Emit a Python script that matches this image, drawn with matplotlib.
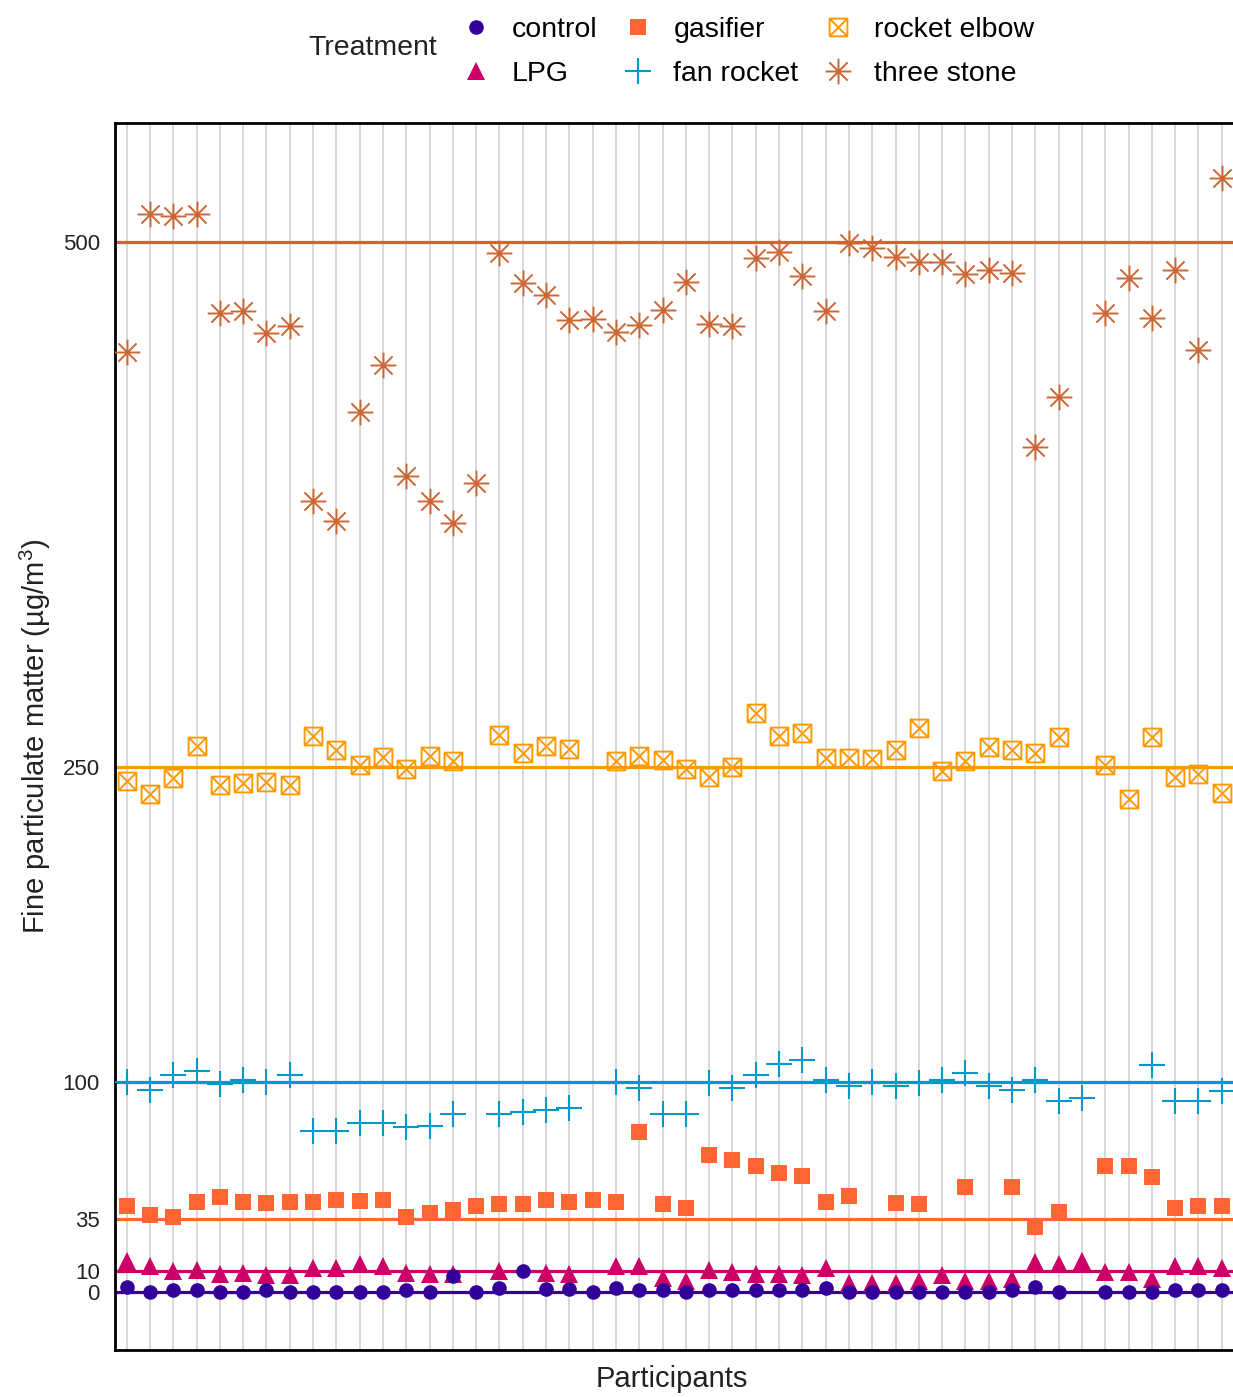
import numpy as np
import matplotlib
matplotlib.use("Agg")
import matplotlib.pyplot as plt
from matplotlib.path import Path
from matplotlib.lines import Line2D

plt.rcParams["font.family"] = ["Liberation Sans", "DejaVu Sans"]
plt.rcParams["mathtext.fontset"] = "custom"
plt.rcParams["mathtext.rm"] = "Liberation Sans"
plt.rcParams["mathtext.it"] = "Liberation Sans:italic"

nan = np.nan

# ---- data: mean PM2.5 per participant and stove treatment (ug/m3) ----
participants = np.arange(1, 49)

control = [2.5, 0.3, 1, 1, 0.3, 0.3, 1, 0, 0, 0, 0.3, 0.3, 1, 0.3, 8, 0.3,
           2, 10, 1.5, 1.5, 0.3, 2, 1, 1, 0, 1, 1, 1, 1, 1, 2, 0,
           0, 0, 0.3, 0, 0.3, 0, 1, 2.5, 0.3, nan, 0, 0, 0, 1, 1, 1]

lpg = [14.9, 12.7, 10, 10.8, 8.9, 9.4, 8.1, 8.1, 11.7, 11.7, 13.6, 12.7, 9.4, 8.9, 8.9, nan,
       10, nan, 9.4, 8.9, nan, 12.7, 12.7, 7.1, 5.4, 10.8, 9.8, 8.9, 8.9, 8.1, 11.7, 4.6,
       4.6, 4.6, 5.4, 8.1, 5.4, 5.4, 6.6, 14.6, 13.6, 15.2, 9.8, 9.8, 6.4, 12.7, 12.7, 11.7]

gasifier = [41.4, 37, 35.9, 43, 45.4, 43, 42.7, 43, 43, 43.8, 43.5, 43.8, 35.9, 37.8, 39.5, 41.4,
            42.2, 42, 43.8, 43, 43.8, 43, 76.5, 42.2, 40.3, 65.4, 63.2, 60, 57, 55.4, 43, 45.9,
            nan, 42.7, 42.2, nan, 50.2, nan, 50.2, 31, 38.3, nan, 60, 60, 55.2, 40.2, 41.1, 41.4]

fan_rocket = [100, 96.5, 103.7, 105.4, 99.4, 101.3, 100, 103.7, 77.1, 77.1, 80.6, 80.6, 78.7, 79.5, 85, nan,
              85, 85.9, 86.7, 87.8, nan, 100, 97.5, 85, 85, 99.7, 97.5, 103.7, 108.9, 110.8, 101.4, 98.2,
              100, 98.5, 99.7, 101.4, 104.6, 98.5, 96.5, 101.4, 91.1, 92.7, nan, nan, 108.1, 91.1, 91.1, 95.7]

rocket_elbow = [243.5, 237.6, 245.2, 260, 241.6, 242.5, 243.2, 241.8, 265.1, 258.2, 251, 255.2, 249.2, 255.6, 253.2, nan,
                265.4, 257, 260.2, 258.7, nan, 253, 255.7, 253.6, 249.2, 245.4, 250.3, 276, 265.1, 266.5, 254.3, 254.3,
                253.8, 258.2, 269, 248.1, 253.2, 259.7, 258.2, 257.1, 264.3, nan, 251.3, 235.2, 264.3, 245.4, 246.7, 237.8]

three_stone = [447.8, 513.7, 512.4, 513.7, 466.5, 467.3, 456.8, 460.1, 377.1, 367.6, 419.2, 441.7, 388.6, 377.1, 366.3, 385.6,
               494.9, 480.8, 475.2, 463.3, 463.7, 457.3, 460.5, 468, 481.1, 461.3, 460.1, 492.5, 495.7, 484, 467.3, 499.9,
               497.5, 493, 490.6, 490.6, 485.1, 486.7, 485.4, 402.5, 426.3, nan, 466.5, 483, 464.1, 487, 448.9, 530.6]

treatments = ["control", "LPG", "gasifier", "fan rocket", "rocket elbow", "three stone"]
series = [control, lpg, gasifier, fan_rocket, rocket_elbow, three_stone]
# target / reference level drawn for each treatment
reference_levels = [0, 10, 35, 100, 250, 500]
y_ticks = [0, 10, 35, 100, 250, 500]

colors = ["#330099", "#CC0066", "#FF6633", "#0099CC", "#FF9900", "#CC6633"]

# ---- marker shapes ----
M, L = Path.MOVETO, Path.LINETO
boxed_x = Path([(-1, -1), (1, -1), (1, 1), (-1, 1), (-1, -1),
                (-1, -1), (1, 1), (-1, 1), (1, -1)],
               [M, L, L, L, L, M, L, M, L])
d = 0.7071
asterisk = Path([(-1, 0), (1, 0), (0, -1), (0, 1),
                 (-d, -d), (d, d), (-d, d), (d, -d)],
                [M, L, M, L, M, L, M, L])

styles = [
    dict(marker="o", ms=10.5, mew=0),
    dict(marker="^", ms=13.5, mew=0),
    dict(marker="s", ms=12, mew=0),
    dict(marker="+", ms=18.5, mew=1.5),
    dict(marker=boxed_x, ms=12.8, mew=1.4, mfc="none"),
    dict(marker=asterisk, ms=18.5, mew=1.4),
]

fig = plt.figure(figsize=(12.33, 13.97), dpi=100)
ax = fig.add_axes([115 / 1233, 1 - 1350 / 1397, 1130 / 1233, (1350 - 123) / 1397])

ax.set_xlim(0.5, 49.0)
ax.set_ylim(-27.4, 556.9)

ax.set_xticks(participants)
ax.set_xticklabels([])
ax.grid(axis="x", color="#d4d4d4", lw=1.3, zorder=0)
ax.tick_params(axis="both", length=0)
ax.tick_params(axis="y", pad=11, labelsize=16, labelcolor="#222222")
ax.set_yticks(y_ticks)
ax.set_yticklabels([str(v) for v in y_ticks])

for level, c in zip(reference_levels, colors):
    ax.axhline(level, color=c, lw=2.3, zorder=2)

draw_order = [1, 2, 3, 4, 5, 0]
for i in draw_order:
    st = dict(styles[i])
    ax.plot(participants, series[i], linestyle="none", color=colors[i],
            mec=colors[i], zorder=3, **st)

for sp in ax.spines.values():
    sp.set_linewidth(2.0)
    sp.set_color("black")

ax.set_xlabel("Participants", fontsize=21, color="#222222")
ax.xaxis.set_label_coords(0.493, -0.0235)
ax.xaxis.label.set_va("center")
ax.set_ylabel(r"Fine particulate matter (µg/m$^{\mathrm{3}}$)", fontsize=21,
              color="#222222")
ax.yaxis.set_label_coords(-0.0705, 0.5)
ax.yaxis.label.set_va("center")

# ---- legend ----
handles = []
for i in range(6):
    st = dict(styles[i])
    handles.append(Line2D([], [], linestyle="none", color=colors[i], mec=colors[i], **st))

fig.legend(handles, treatments, loc="center left", bbox_to_anchor=(462 / 1233, 1 - 52 / 1397),
           ncol=3, frameon=False, fontsize=20.5, handlelength=1.0, handletextpad=0.76,
           columnspacing=0.9, labelspacing=0.61, borderpad=0, borderaxespad=0)
fig.text(308 / 1233, 1 - 48 / 1397, "Treatment", fontsize=20.5, ha="left", va="center",
         color="#222222")

fig.savefig("out.png", dpi=100)
